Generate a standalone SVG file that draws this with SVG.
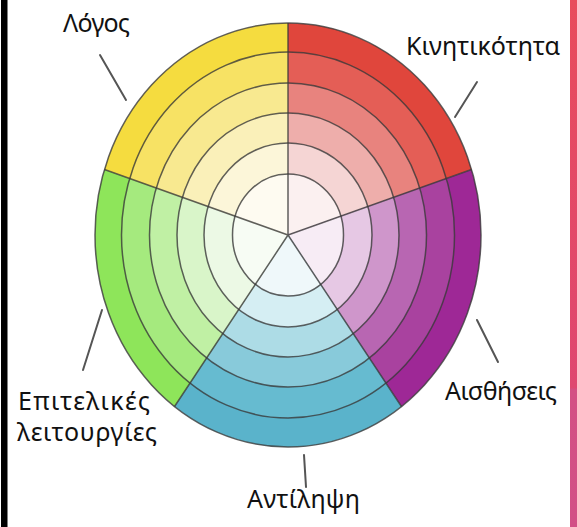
<svg xmlns="http://www.w3.org/2000/svg" width="577" height="527" viewBox="0 0 577 527">
<style>
.lbl{font-family:"Noto Sans","DejaVu Sans",sans-serif;font-size:25px;fill:#111}
.lead{stroke:#555;stroke-width:2;stroke-linecap:round;fill:none}
.ring{fill:none;stroke:#3a3a3a;stroke-opacity:0.8;stroke-width:1.5}
</style>
<defs>
<linearGradient id="bar" x1="0" y1="0" x2="0" y2="1">
<stop offset="0" stop-color="#e84c5c"/>
<stop offset="0.735" stop-color="#df4770"/>
<stop offset="0.74" stop-color="#d34f84"/>
<stop offset="1" stop-color="#d24f86"/>
</linearGradient>
</defs>
<rect width="577" height="527" fill="#fff"/>
<rect x="1" y="0" width="6.5" height="527" fill="#000"/>
<rect x="570" y="0" width="7" height="527" fill="url(#bar)"/>

<g id="sector-red">
<path d="M288 235 L288 23 A193 212 0 0 1 471.55 169.49Z" fill="#e0463c"/>
<path d="M288 235 L288 52 A166.5 183 0 0 1 446.35 178.45Z" fill="#e45e56"/>
<path d="M288 235 L288 83 A138.5 152 0 0 1 419.72 188.03Z" fill="#e8837e"/>
<path d="M288 235 L288 113 A111 122 0 0 1 393.57 197.3Z" fill="#eeaeab"/>
<path d="M288 235 L288 143 A84 92 0 0 1 367.89 206.57Z" fill="#f5d5d4"/>
<path d="M288 235 L288 174 A55.5 61 0 0 1 340.78 216.15Z" fill="#fbf0f0"/>
</g>
<g id="sector-purple">
<path d="M288 235 L471.55 169.49 A193 212 0 0 1 401.44 406.51Z" fill="#9e2896"/>
<path d="M288 235 L446.35 178.45 A166.5 183 0 0 1 385.87 383.05Z" fill="#a9429f"/>
<path d="M288 235 L419.72 188.03 A138.5 152 0 0 1 369.41 357.97Z" fill="#b866b2"/>
<path d="M288 235 L393.57 197.3 A111 122 0 0 1 353.24 333.7Z" fill="#cf96cb"/>
<path d="M288 235 L367.89 206.57 A84 92 0 0 1 337.37 309.43Z" fill="#e6c8e4"/>
<path d="M288 235 L340.78 216.15 A55.5 61 0 0 1 320.62 284.35Z" fill="#f7ecf5"/>
</g>
<g id="sector-teal">
<path d="M288 235 L401.44 406.51 A193 212 0 0 1 174.56 406.51Z" fill="#5ab3cb"/>
<path d="M288 235 L385.87 383.05 A166.5 183 0 0 1 190.13 383.05Z" fill="#66bbd0"/>
<path d="M288 235 L369.41 357.97 A138.5 152 0 0 1 206.59 357.97Z" fill="#88cada"/>
<path d="M288 235 L353.24 333.7 A111 122 0 0 1 222.76 333.7Z" fill="#addce6"/>
<path d="M288 235 L337.37 309.43 A84 92 0 0 1 238.63 309.43Z" fill="#d5eef3"/>
<path d="M288 235 L320.62 284.35 A55.5 61 0 0 1 255.38 284.35Z" fill="#eff8fa"/>
</g>
<g id="sector-green">
<path d="M288 235 L174.56 406.51 A193 212 0 0 1 104.45 169.49Z" fill="#8ee55a"/>
<path d="M288 235 L190.13 383.05 A166.5 183 0 0 1 129.65 178.45Z" fill="#a5ea7e"/>
<path d="M288 235 L206.59 357.97 A138.5 152 0 0 1 156.28 188.03Z" fill="#c0f0a4"/>
<path d="M288 235 L222.76 333.7 A111 122 0 0 1 182.43 197.3Z" fill="#d9f5c9"/>
<path d="M288 235 L238.63 309.43 A84 92 0 0 1 208.11 206.57Z" fill="#ecf9e5"/>
<path d="M288 235 L255.38 284.35 A55.5 61 0 0 1 235.22 216.15Z" fill="#f7fcf4"/>
</g>
<g id="sector-yellow">
<path d="M288 235 L104.45 169.49 A193 212 0 0 1 288 23Z" fill="#f5dc3f"/>
<path d="M288 235 L129.65 178.45 A166.5 183 0 0 1 288 52Z" fill="#f7e264"/>
<path d="M288 235 L156.28 188.03 A138.5 152 0 0 1 288 83Z" fill="#f8e990"/>
<path d="M288 235 L182.43 197.3 A111 122 0 0 1 288 113Z" fill="#faf0b9"/>
<path d="M288 235 L208.11 206.57 A84 92 0 0 1 288 143Z" fill="#fcf6d9"/>
<path d="M288 235 L235.22 216.15 A55.5 61 0 0 1 288 174Z" fill="#fefbf1"/>
</g>

<g id="connectors">
<ellipse class="ring" cx="288" cy="235" rx="193" ry="212"/>
<ellipse class="ring" cx="288" cy="235" rx="166.5" ry="183"/>
<ellipse class="ring" cx="288" cy="235" rx="138.5" ry="152"/>
<ellipse class="ring" cx="288" cy="235" rx="111" ry="122"/>
<ellipse class="ring" cx="288" cy="235" rx="84" ry="92"/>
<ellipse class="ring" cx="288" cy="235" rx="55.5" ry="61"/>
<path class="ring" d="M288 235 L288 23 M288 235 L471.55 169.49 M288 235 L401.44 406.51 M288 235 L174.56 406.51 M288 235 L104.45 169.49"/>
<line class="lead" x1="100" y1="55" x2="126" y2="100"/>
<line class="lead" x1="477" y1="82" x2="455" y2="117"/>
<line class="lead" x1="477" y1="320" x2="498" y2="362"/>
<line class="lead" x1="102" y1="310" x2="83" y2="370"/>
<line class="lead" x1="304" y1="455" x2="306" y2="487"/>
</g>

<g id="labels">
<text class="lbl" x="63" y="32" textLength="67">Λόγος</text>
<text class="lbl" x="406" y="55" textLength="154">Κινητικότητα</text>
<text class="lbl" x="445" y="400" textLength="112">Αισθήσεις</text>
<text class="lbl" x="18" y="410" textLength="132">Επιτελικές</text>
<text class="lbl" x="17" y="441" textLength="140">λειτουργίες</text>
<text class="lbl" x="247" y="508" textLength="113">Αντίληψη</text>
</g>
</svg>
